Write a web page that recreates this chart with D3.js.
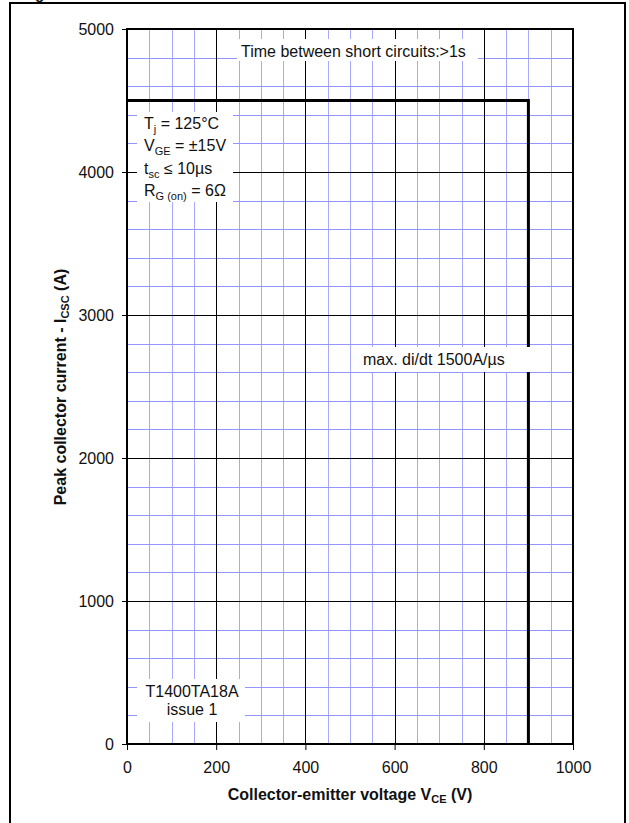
<!DOCTYPE html>
<html>
<head>
<meta charset="utf-8">
<script src="https://cdn.jsdelivr.net/npm/d3@7"></script>
<style>
  body { margin: 0; background: #fff; }
  svg text { font-family: Arial, "Liberation Sans", sans-serif; fill: #111; }
</style>
</head>
<body>
<svg id="chart" width="629" height="823"></svg>
<script>
'use strict';

// data
var vceTicks = [0, 200, 400, 600, 800, 1000];
var icTicks = [0, 1000, 2000, 3000, 4000, 5000];
var scsoaVce = [0, 900, 900];
var scsoaIc = [4500, 4500, 0];
var conditions = [
    ['T', 'j', ' = 125°C'],
    ['V', 'GE', ' = ±15V'],
    ['t', 'sc', ' ≤ 10µs'],
    ['R', 'G (on)', ' = 6Ω']
];

var svg = d3.select('#chart');

// outer frame of the figure
svg.append('rect')
    .attr('x', 10).attr('y', 3)
    .attr('width', 615).attr('height', 840)
    .attr('fill', 'none').attr('stroke', '#000').attr('stroke-width', 2);
// descender of a cut-off caption above the frame
svg.append('text').attr('x', 35).attr('y', -1)
    .style('font-size', '15px').style('font-weight', 'bold').text('g');

var plotL = 127, plotR = 573, plotT = 29, plotB = 744;

var x = d3.scaleLinear().domain([0, 1000]).range([plotL, plotR]);
var y = d3.scaleLinear().domain([0, 5000]).range([plotB, plotT]);

var grid = svg.append('g').attr('class', 'grid');

// minor grid (blue)
grid.selectAll('line.vminor')
    .data(d3.range(50, 1000, 50).filter(function (v) { return v % 200 !== 0; }))
    .enter().append('line')
    .attr('x1', function (d) { return Math.round(x(d)) + 0.5; })
    .attr('x2', function (d) { return Math.round(x(d)) + 0.5; })
    .attr('y1', plotT).attr('y2', plotB)
    .attr('stroke', '#a8a8ff').attr('stroke-width', 1);

grid.selectAll('line.hminor')
    .data(d3.range(200, 5000, 200).filter(function (v) { return v % 1000 !== 0; }))
    .enter().append('line')
    .attr('y1', function (d) { return Math.round(y(d)) + 0.5; })
    .attr('y2', function (d) { return Math.round(y(d)) + 0.5; })
    .attr('x1', plotL).attr('x2', plotR)
    .attr('stroke', '#9494ff').attr('stroke-width', 1);

// major grid (black)
grid.selectAll('line.vmajor')
    .data(vceTicks.slice(1, -1))
    .enter().append('line')
    .attr('x1', function (d) { return Math.round(x(d)) + 0.5; })
    .attr('x2', function (d) { return Math.round(x(d)) + 0.5; })
    .attr('y1', plotT).attr('y2', plotB)
    .attr('stroke', '#000').attr('stroke-width', 1);

grid.selectAll('line.hmajor')
    .data(icTicks.slice(1, -1))
    .enter().append('line')
    .attr('y1', function (d) { return Math.round(y(d)) + 0.5; })
    .attr('y2', function (d) { return Math.round(y(d)) + 0.5; })
    .attr('x1', plotL).attr('x2', plotR)
    .attr('stroke', '#000').attr('stroke-width', 1);

// axes
var xAxis = d3.axisBottom(x).tickValues(vceTicks).tickFormat(d3.format('d'))
    .tickSize(6).tickPadding(12);
var yAxis = d3.axisLeft(y).tickValues(icTicks).tickFormat(d3.format('d'))
    .tickSize(5).tickPadding(8);

var gx = svg.append('g').attr('transform', 'translate(0,' + plotB + ')').call(xAxis);
var gy = svg.append('g').attr('transform', 'translate(' + plotL + ',0)').call(yAxis);
[gx, gy].forEach(function (g) {
    g.select('.domain').remove();
    g.selectAll('.tick line').attr('stroke', '#000');
    g.selectAll('.tick text').style('font-size', '16px')
        .style('font-family', 'Arial, "Liberation Sans", sans-serif').attr('fill', '#111');
});

// plot frame
svg.append('rect')
    .attr('x', plotL).attr('y', plotT)
    .attr('width', plotR - plotL).attr('height', plotB - plotT)
    .attr('fill', 'none').attr('stroke', '#000').attr('stroke-width', 2);

// SCSOA boundary
var line = d3.line()
    .x(function (d) { return x(d[0]); })
    .y(function (d) { return y(d[1]); });
svg.append('path')
    .datum(d3.zip(scsoaVce, scsoaIc))
    .attr('d', line)
    .attr('fill', 'none').attr('stroke', '#000').attr('stroke-width', 3)
    .attr('stroke-linejoin', 'miter');

// labels with white boxes
function box(x0, y0, w, h) {
    svg.append('rect').attr('x', x0).attr('y', y0).attr('width', w).attr('height', h).attr('fill', '#fff');
}

box(237, 39, 241, 22);
svg.append('text').attr('x', 241).attr('y', 57).style('font-size', '16px')
    .text('Time between short circuits:>1s');

box(137, 112, 96, 90);
conditions.forEach(function (c, i) {
    var t = svg.append('text').attr('x', 144).attr('y', 129 + i * 22.4).style('font-size', '16px');
    t.append('tspan').text(c[0]);
    t.append('tspan').attr('dy', 4).style('font-size', '11px').text(c[1]);
    t.append('tspan').attr('dy', -4).text(c[2]);
});

box(353, 347, 177, 25);
svg.append('text').attr('x', 363).attr('y', 365).style('font-size', '16px')
    .text('max. di/dt 1500A/µs');

box(137, 679, 108, 43);
svg.append('text').attr('x', 192).attr('y', 697).attr('text-anchor', 'middle')
    .style('font-size', '16px').text('T1400TA18A');
svg.append('text').attr('x', 192).attr('y', 715).attr('text-anchor', 'middle')
    .style('font-size', '16px').text('issue 1');

// axis titles
var xt = svg.append('text').attr('x', 350).attr('y', 800).attr('text-anchor', 'middle')
    .style('font-size', '16px').style('font-weight', 'bold');
xt.append('tspan').text('Collector-emitter voltage V');
xt.append('tspan').attr('dy', 3).style('font-size', '11px').text('CE');
xt.append('tspan').attr('dy', -3).text(' (V)');

var yt = svg.append('text')
    .attr('transform', 'translate(66,' + 387 + ') rotate(-90)')
    .attr('text-anchor', 'middle')
    .style('font-size', '16px').style('font-weight', 'bold');
yt.append('tspan').text('Peak collector current - I');
yt.append('tspan').attr('dy', 3).style('font-size', '11px').text('CSC');
yt.append('tspan').attr('dy', -3).text(' (A)');
</script>
</body>
</html>
